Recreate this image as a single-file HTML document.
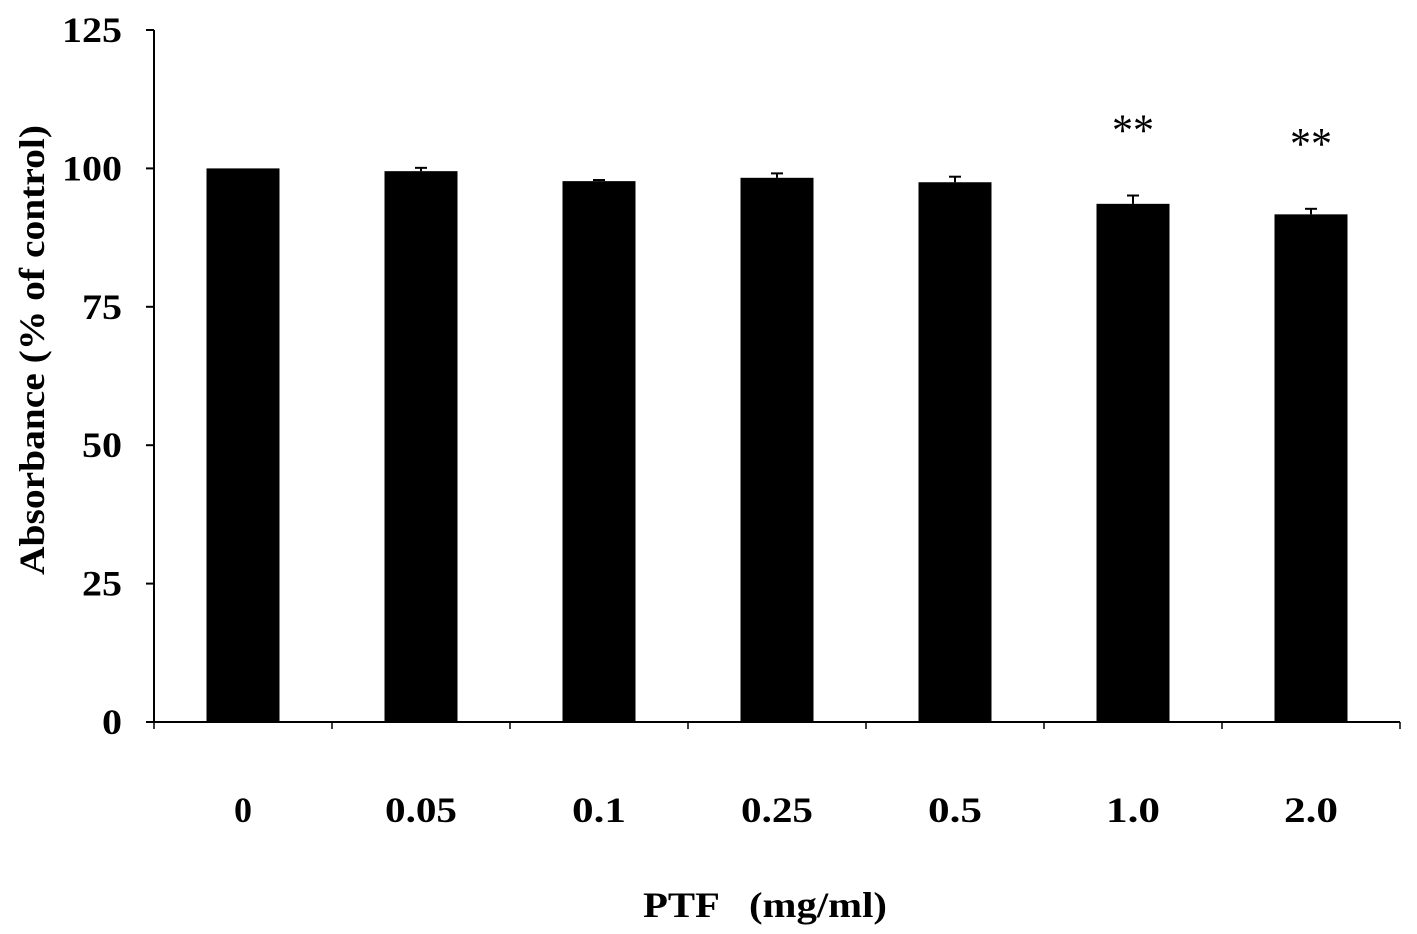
<!DOCTYPE html>
<html><head><meta charset="utf-8"><style>
html,body{margin:0;padding:0;background:#fff;}
svg{display:block;font-family:"Liberation Serif",serif;}
</style></head><body>
<svg id="chart" width="1417" height="934" viewBox="0 0 1417 934">
<g id="axes"></g><g id="bars"></g>
<text x="44" y="350" transform="rotate(-90 44 350)" text-anchor="middle" font-size="36" font-weight="bold" textLength="450" lengthAdjust="spacingAndGlyphs">Absorbance (% of control)</text>
<text x="765" y="917" text-anchor="middle" font-size="36" font-weight="bold" textLength="244" lengthAdjust="spacingAndGlyphs" xml:space="preserve">PTF   (mg/ml)</text>
</svg>
<script>
const categories = ["0","0.05","0.1","0.25","0.5","1.0","2.0"];
const values = [100,99.5,97.7,98.3,97.5,93.6,91.7];
const errors = [0,0.6,0.2,0.8,1.0,1.5,1.0];
const marks = ["","","","","","**","**"];
const yTicks = [0,25,50,75,100,125];

const NS="http://www.w3.org/2000/svg";
const x0=154,x1=1400,y0=722,yTop=30;
const yScale=v=>y0-(v/125)*(y0-yTop);
const band=(x1-x0)/categories.length;
const xCenter=i=>x0+band*(i+0.5);
function mk(tag,attrs,parent){const e=document.createElementNS(NS,tag);for(const k in attrs)e.setAttribute(k,attrs[k]);parent.appendChild(e);return e;}
const axes=document.getElementById('axes'),bars=document.getElementById('bars');
let yl=mk('line',{x1:x0,y1:yTop,x2:x0,y2:y0,stroke:'#000','stroke-width':2},axes);


let xl=mk('line',{x1:x0,y1:y0,x2:x1,y2:y0,stroke:'#000','stroke-width':2},axes);


yTicks.forEach(t=>{
  const y=yScale(t);
  mk('line',{x1:x0-8,y1:y,x2:x0,y2:y,stroke:'#000','stroke-width':2},axes);
  const s=String(t);
  const tx=mk('text',{x:122,y:y+12,'text-anchor':'end','font-size':36,'font-weight':'bold',textLength:s.length*20,lengthAdjust:'spacingAndGlyphs'},axes);
  tx.textContent=t;
  
  
});
for(let i=0;i<=categories.length;i++){
  const x=x0+band*i;
  mk('line',{x1:x,y1:y0,x2:x,y2:y0+7,stroke:'#000','stroke-width':1.5},axes);
}
categories.forEach((c,i)=>{
  const cx=xCenter(i),w=73;
  const r=mk('rect',{x:cx-w/2,y:yScale(values[i]),width:w,height:y0-yScale(values[i]),fill:'#000'},bars);
  
  
  if(errors[i]>0){
    const yt=yScale(values[i]+errors[i]);
    mk('line',{x1:cx,y1:yt,x2:cx,y2:yScale(values[i]),stroke:'#000','stroke-width':2},bars);
    const cap=mk('line',{x1:cx-6,y1:yt,x2:cx+6,y2:yt,stroke:'#000','stroke-width':2},bars);
    
    
  }
  if(marks[i]){
    const m=mk('text',{x:cx,y:yScale(values[i]+errors[i])-50,'text-anchor':'middle','font-size':46,textLength:42,lengthAdjust:'spacingAndGlyphs'},bars);
    m.textContent=marks[i];
    
    
  }
  const lb=mk('text',{x:cx,y:822,'text-anchor':'middle','font-size':36,'font-weight':'bold',textLength:c.length*18,lengthAdjust:'spacingAndGlyphs'},axes);
  lb.textContent=c;
  
  
});
</script>
</body></html>
